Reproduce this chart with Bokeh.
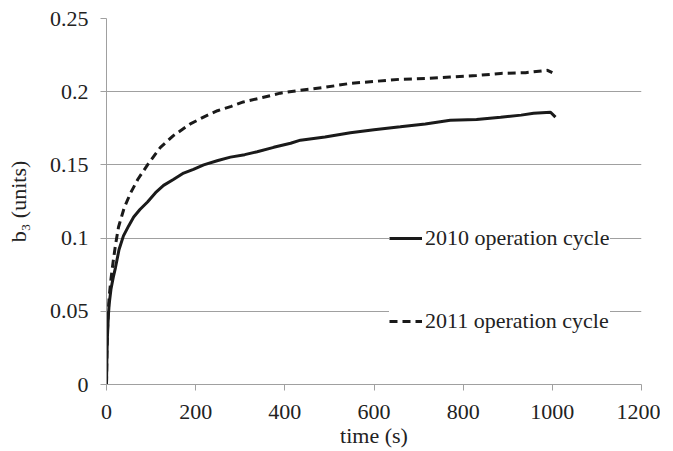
from bokeh.plotting import figure
from bokeh.models import Range1d, FixedTicker, Legend, LegendItem
from bokeh.embed import file_html
from bokeh.resources import INLINE

# 2010 operation cycle (solid)
t_2010 = [0, 1, 2, 4, 6, 10, 15, 20, 28, 38, 50, 61, 75, 92, 110, 128, 150, 173, 195, 218,
          250, 278, 310, 338, 375, 413, 435, 490, 547, 600, 659, 715, 771, 830, 884, 930, 958, 996, 1007]
v_2010 = [0, 0.02, 0.032, 0.046, 0.055, 0.065, 0.073, 0.0797, 0.092, 0.1015, 0.1085, 0.1144, 0.1195, 0.1247,
          0.131, 0.136, 0.140, 0.1444, 0.147, 0.150, 0.153, 0.1553, 0.157, 0.159, 0.162, 0.1648, 0.1669,
          0.169, 0.172, 0.174, 0.176, 0.178, 0.1805, 0.181, 0.1826, 0.184, 0.1853, 0.186, 0.1826]

# 2011 operation cycle (dashed)
t_2011 = [0, 1, 2, 4, 6, 10, 15, 20, 27, 40, 54, 70, 92, 121, 150, 188, 220, 249, 280, 307, 350,
          390, 435, 490, 547, 600, 659, 715, 771, 830, 884, 940, 989, 1000]
v_2011 = [0, 0.022, 0.035, 0.05, 0.06, 0.072, 0.084, 0.095, 0.1076, 0.121, 0.1308, 0.140, 0.150, 0.162,
          0.170, 0.178, 0.183, 0.187, 0.190, 0.193, 0.196, 0.199, 0.201, 0.203, 0.2057, 0.207, 0.2085,
          0.209, 0.210, 0.211, 0.2125, 0.213, 0.2146, 0.213]

x_ticks = [0, 200, 400, 600, 800, 1000, 1200]
y_ticks = [0, 0.05, 0.1, 0.15, 0.2, 0.25]
y_tick_labels = {0: "0", 0.05: "0.05", 0.1: "0.1", 0.15: "0.15", 0.2: "0.2", 0.25: "0.25"}

FONT = "Liberation Serif"
GREY = "#a0a0a0"

p = figure(width=660, height=450, output_backend="svg", toolbar_location=None,
           x_range=Range1d(0, 1200), y_range=Range1d(0, 0.25),
           min_border_left=106, min_border_top=18, min_border_right=19, min_border_bottom=65)
p.outline_line_color = None
p.background_fill_color = "white"

r1 = p.line(t_2010, v_2010, line_color="#1a1a1a", line_width=3)
r2 = p.line(t_2011, v_2011, line_color="#1a1a1a", line_width=3, line_dash="8 5")

p.xgrid.grid_line_color = None
p.ygrid.grid_line_color = GREY
p.ygrid.grid_line_width = 1

for ax in (p.xaxis[0], p.yaxis[0]):
    ax.axis_line_color = GREY
    ax.major_tick_line_color = GREY
    ax.minor_tick_line_color = None
    ax.major_tick_in = 0
    ax.major_tick_out = 6
    ax.major_label_text_font = FONT
    ax.major_label_text_font_size = "22px"
    ax.major_label_text_color = "#222222"
    ax.axis_label_text_font = FONT
    ax.axis_label_text_font_size = "22px"
    ax.axis_label_text_font_style = "normal"
    ax.axis_label_text_color = "#222222"

p.xaxis[0].ticker = FixedTicker(ticks=x_ticks)
p.yaxis[0].ticker = FixedTicker(ticks=y_ticks)
p.yaxis[0].major_label_overrides = y_tick_labels
p.xaxis[0].axis_label = "time (s)"
p.yaxis[0].axis_label = "b\u2083 (units)"
p.xaxis[0].major_label_standoff = 14
p.yaxis[0].major_label_standoff = 12
p.xaxis[0].axis_label_standoff = 1
p.yaxis[0].axis_label_standoff = 16

legend = Legend(items=[LegendItem(label="2010 operation cycle", renderers=[r1]),
                       LegendItem(label="2011 operation cycle", renderers=[r2])],
                location=(283, 50))
legend.background_fill_color = "white"
legend.background_fill_alpha = 1.0
legend.border_line_color = None
legend.label_text_font = FONT
legend.label_text_font_size = "22px"
legend.label_text_color = "#222222"
legend.glyph_width = 33
legend.glyph_height = 20
legend.label_height = 20
legend.label_standoff = 3
legend.spacing = 57
legend.padding = 16
legend.margin = 0
p.add_layout(legend, "center")

open("out.html", "w").write(file_html(p, INLINE))
